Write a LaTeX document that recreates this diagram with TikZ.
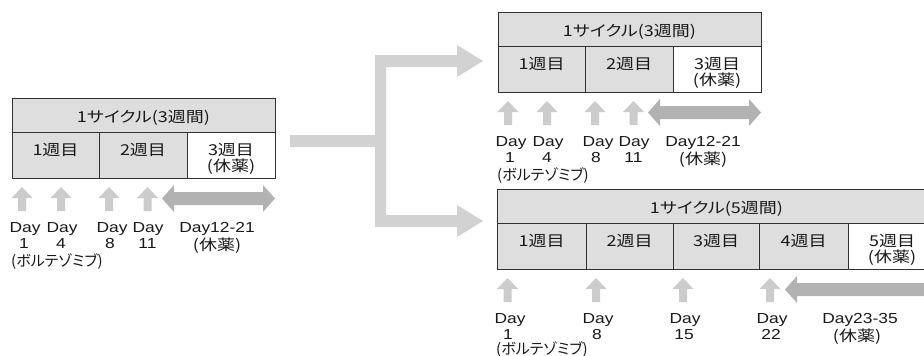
\documentclass[tikz,border=0pt]{standalone}
\usepackage{graphicx}
\usepackage{fontspec}
\setmainfont{Liberation Sans}
\newfontfamily\jp[RawFeature=+palt]{Noto Sans CJK JP}
\newcommand\sx[1]{\scalebox{1.2}[1]{#1}}
\definecolor{boxg}{RGB}{222,222,222}
\definecolor{upg}{RGB}{204,204,204}
\definecolor{dblg}{RGB}{178,178,178}
\definecolor{cong}{RGB}{210,210,210}
\definecolor{linec}{RGB}{50,50,50}
\definecolor{txtc}{RGB}{25,25,25}
\tikzset{
  lat/.style={font=\fontsize{14.5}{14.5}\selectfont, text=txtc, inner sep=0pt, anchor=base},
  jpt/.style={font=\jp\fontsize{15}{15}\selectfont, text=txtc, inner sep=0pt, anchor=base},
  cellg/.style={draw=linec, line width=0.8pt, fill=boxg},
  cellw/.style={draw=linec, line width=0.8pt, fill=white},
}
% up arrow: x, ytop, ybottom
\newcommand\myuparr[3]{%
  \fill[upg] (#1,#2) -- (#1+10.5,#2+11) -- (#1+4,#2+11) -- (#1+4,#3) -- (#1-4,#3) -- (#1-4,#2+11) -- (#1-10.5,#2+11) -- cycle;}
% double arrow: x1, x2, yc
\newcommand\mydblarr[3]{%
  \fill[dblg] (#1,#3) -- (#1+12,#3-13.5) -- (#1+12,#3-6.5) -- (#2-12,#3-6.5) -- (#2-12,#3-13.5) -- (#2,#3) -- (#2-12,#3+13.5) -- (#2-12,#3+6.5) -- (#1+12,#3+6.5) -- (#1+12,#3+13.5) -- cycle;}
% three-week cycle block, prefix #1
\newcommand\mythreeweek[1]{%
  \path[cellg] (12,98) rectangle (275,132);
  \path[cellg] (12,132) rectangle (99,178);
  \path[cellg] (99,132) rectangle (187,178);
  \path[cellw] (187,132) rectangle (275,178);
  \node[jpt] (#1h) at (143.5,122) {\sx{1サイクル(3週間)}};
  \node[jpt] (#1w1) at (55.5,155) {\sx{1週目}};
  \node[jpt] (#1w2) at (143,155) {\sx{2週目}};
  \node[jpt] (#1w3) at (231,155) {\sx{3週目}};
  \node[jpt] (#1w3b) at (231,171) {\sx{(休薬)}};
  \myuparr{22}{187}{211}
  \myuparr{61}{187}{211}
  \myuparr{109}{187}{211}
  \myuparr{147.5}{187}{211}
  \mydblarr{162}{275}{198.5}
  \node[lat] (#1d1) at (25,232) {\sx{Day}};
  \node[lat] (#1d4) at (62,232) {\sx{Day}};
  \node[lat] (#1d8) at (112,232) {\sx{Day}};
  \node[lat] (#1d11) at (148,232) {\sx{Day}};
  \node[lat] (#1n1) at (24,248) {\sx{1}};
  \node[lat] (#1n4) at (61,248) {\sx{4}};
  \node[lat] (#1n8) at (110,248) {\sx{8}};
  \node[lat] (#1n11) at (147.5,248) {\sx{11}};
  \node[lat] (#1dr) at (217,232) {\sx{Day12-21}};
  \node[jpt] (#1dq) at (217,250) {\sx{(休薬)}};
  \node[jpt, anchor=base west] (#1bz) at (11,266) {(ボルテゾミブ)};
}
\begin{document}
\begin{tikzpicture}[x=1pt,y=-1pt]
\clip (0,0) rectangle (924,356);
\fill[white] (0,0) rectangle (924,356);
% left block
\mythreeweek{L}
% top-right block
\begin{scope}[shift={(486,-86)}]
\mythreeweek{T}
\end{scope}
% branching connector
\fill[cong] (290,135) -- (375,135) -- (375,55) -- (457,55) -- (457,45) -- (483,61) -- (457,77) -- (457,67) -- (386,67) -- (386,215) -- (457,215) -- (457,205) -- (483,221) -- (457,237) -- (457,227) -- (375,227) -- (375,147) -- (290,147) -- cycle;
% bottom-right block (5 weeks)
\path[cellg] (497,189) rectangle (936,223);
\path[cellg] (497,223) rectangle (586,269);
\path[cellg] (586,223) rectangle (673,269);
\path[cellg] (673,223) rectangle (759,269);
\path[cellg] (759,223) rectangle (848,269);
\path[cellw] (848,223) rectangle (936,269);
\node[jpt] (Bh) at (716.5,213) {\sx{1サイクル(5週間)}};
\node[jpt] (Bw1) at (541.5,246) {\sx{1週目}};
\node[jpt] (Bw2) at (629.5,246) {\sx{2週目}};
\node[jpt] (Bw3) at (716,246) {\sx{3週目}};
\node[jpt] (Bw4) at (803.5,246) {\sx{4週目}};
\node[jpt] (Bw5) at (892,246) {\sx{5週目}};
\node[jpt] (Bw5b) at (892,262) {\sx{(休薬)}};
\myuparr{507.5}{278}{302}
\myuparr{596}{278}{302}
\myuparr{683}{278}{302}
\myuparr{770}{278}{302}
\mydblarr{785}{936}{289.5}
\node[lat] (Bd1) at (510,323) {\sx{Day}};
\node[lat] (Bd8) at (598,323) {\sx{Day}};
\node[lat] (Bd15) at (685,323) {\sx{Day}};
\node[lat] (Bd22) at (772,323) {\sx{Day}};
\node[lat] (Bn1) at (508,339) {\sx{1}};
\node[lat] (Bn8) at (597,339) {\sx{8}};
\node[lat] (Bn15) at (684,339) {\sx{15}};
\node[lat] (Bn22) at (771,339) {\sx{22}};
\node[lat] (Bdr) at (860,323) {\sx{Day23-35}};
\node[jpt] (Bdq) at (857,341) {\sx{(休薬)}};
\node[jpt, anchor=base west] (Bbz) at (496,354) {(ボルテゾミブ)};
\end{tikzpicture}
\end{document}
